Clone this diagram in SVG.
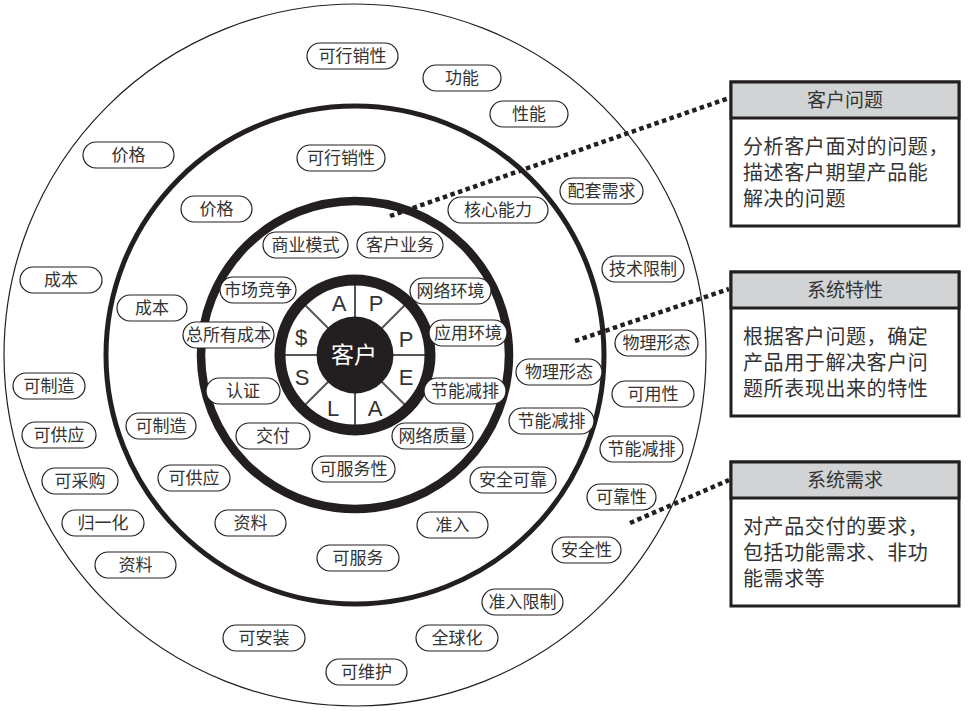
<svg xmlns="http://www.w3.org/2000/svg" width="972" height="711" viewBox="0 0 972 711">
<style>
  .ring{fill:none;stroke:#231f20}
  .pill rect{fill:#fff;stroke:#231f20;stroke-width:1.2}
  .pill text{font-family:"Noto Sans CJK SC","Noto Sans",sans-serif;font-size:17px;fill:#333;text-anchor:middle}
  .seg{stroke:#555;stroke-width:2}
  .let{font-family:"Liberation Sans",Arial,sans-serif;font-size:22px;fill:#333;text-anchor:middle}
  .dot{fill:none;stroke:#231f20;stroke-width:4.5;stroke-dasharray:4.5 3.5}
  .box{fill:#fff;stroke:#231f20;stroke-width:3}
  .hdr{fill:#d1d3d4;stroke:#231f20;stroke-width:3}
  .ttl{font-family:"Noto Sans CJK SC","Noto Sans",sans-serif;font-size:19px;fill:#333;text-anchor:middle}
  .body{font-family:"Noto Sans CJK SC","Noto Sans",sans-serif;font-size:20px;fill:#333;letter-spacing:0.6px}
</style>
<rect width="972" height="711" fill="#fff"/>
<g id="rings">
  <circle class="ring" cx="355" cy="355" r="351" stroke-width="1.2"/>
  <circle class="ring" cx="355" cy="355" r="249" stroke-width="5"/>
  <circle class="ring" cx="355" cy="355" r="154" stroke-width="8.5"/>
</g>
<g id="core">
  <circle cx="355" cy="355" r="70" fill="#fff"/>
  <line class="seg" x1="355" y1="285" x2="355" y2="317"/>
  <line class="seg" x1="355" y1="393" x2="355" y2="425"/>
  <line class="seg" x1="285" y1="355" x2="317" y2="355"/>
  <line class="seg" x1="393" y1="355" x2="425" y2="355"/>
  <line class="seg" x1="305.5" y1="305.5" x2="328" y2="328"/>
  <line class="seg" x1="382" y1="382" x2="404.5" y2="404.5"/>
  <line class="seg" x1="404.5" y1="305.5" x2="382" y2="328"/>
  <line class="seg" x1="328" y1="382" x2="305.5" y2="404.5"/>
  <circle cx="355" cy="355" r="75" fill="none" stroke="#231f20" stroke-width="11"/>
  <circle cx="355" cy="355" r="38.5" fill="#231f20"/>
  <text x="354" y="363" font-family="'Noto Sans CJK SC',sans-serif" font-size="23" fill="#fff" text-anchor="middle">客户</text>
  <text class="let" x="339" y="311">A</text>
  <text class="let" x="376" y="311">P</text>
  <text class="let" x="406" y="347">P</text>
  <text class="let" x="406" y="385">E</text>
  <text class="let" x="375" y="416">A</text>
  <text class="let" x="333" y="416">L</text>
  <text class="let" x="302" y="385">S</text>
  <text class="let" x="301" y="345">$</text>
</g>
<g id="connectors">
  <line class="dot" x1="390" y1="216" x2="729" y2="98"/>
  <line class="dot" x1="575" y1="341" x2="729" y2="289"/>
  <line class="dot" x1="630" y1="523" x2="729" y2="480"/>
</g>
<g id="outer-nodes">
  <g class="pill" id="o1"><rect x="307" y="43" width="91" height="26" rx="13"/><text x="352.5" y="62">可行销性</text></g>
  <g class="pill" id="o2"><rect x="423" y="65" width="78" height="26" rx="13"/><text x="462" y="84">功能</text></g>
  <g class="pill" id="o3"><rect x="490" y="101" width="78" height="26" rx="13"/><text x="529" y="120">性能</text></g>
  <g class="pill" id="o4"><rect x="83" y="142" width="91" height="26" rx="13"/><text x="128.5" y="161">价格</text></g>
  <g class="pill" id="o5"><rect x="560" y="178" width="83" height="26" rx="13"/><text x="601.5" y="197">配套需求</text></g>
  <g class="pill" id="o6"><rect x="602" y="256" width="82" height="26" rx="13"/><text x="643" y="275">技术限制</text></g>
  <g class="pill" id="o7"><rect x="20" y="267" width="82" height="26" rx="13"/><text x="61" y="286">成本</text></g>
  <g class="pill" id="o8"><rect x="615" y="330" width="83" height="26" rx="13"/><text x="656.5" y="349">物理形态</text></g>
  <g class="pill" id="o9"><rect x="612" y="381" width="82" height="26" rx="13"/><text x="653" y="400">可用性</text></g>
  <g class="pill" id="o10"><rect x="600" y="436" width="83" height="26" rx="13"/><text x="641.5" y="455">节能减排</text></g>
  <g class="pill" id="o11"><rect x="13" y="373" width="72" height="26" rx="13"/><text x="49" y="392">可制造</text></g>
  <g class="pill" id="o12"><rect x="22" y="422" width="74" height="26" rx="13"/><text x="59" y="441">可供应</text></g>
  <g class="pill" id="o13"><rect x="42" y="468" width="76" height="26" rx="13"/><text x="80" y="487">可采购</text></g>
  <g class="pill" id="o14"><rect x="587" y="484" width="69" height="26" rx="13"/><text x="621.5" y="503">可靠性</text></g>
  <g class="pill" id="o15"><rect x="62" y="510" width="82" height="26" rx="13"/><text x="103" y="529">归一化</text></g>
  <g class="pill" id="o16"><rect x="552" y="537" width="69" height="26" rx="13"/><text x="586.5" y="556">安全性</text></g>
  <g class="pill" id="o17"><rect x="95" y="552" width="81" height="26" rx="13"/><text x="135.5" y="571">资料</text></g>
  <g class="pill" id="o18"><rect x="482" y="589" width="81" height="26" rx="13"/><text x="522.5" y="608">准入限制</text></g>
  <g class="pill" id="o19"><rect x="223" y="625" width="82" height="26" rx="13"/><text x="264" y="644">可安装</text></g>
  <g class="pill" id="o20"><rect x="416" y="625" width="82" height="26" rx="13"/><text x="457" y="644">全球化</text></g>
  <g class="pill" id="o21"><rect x="326" y="659" width="81" height="26" rx="13"/><text x="366.5" y="678">可维护</text></g>
</g>
<g id="middle-nodes">
  <g class="pill" id="m1"><rect x="297" y="145" width="88" height="26" rx="13"/><text x="341" y="164">可行销性</text></g>
  <g class="pill" id="m2"><rect x="181" y="196" width="71" height="26" rx="13"/><text x="216.5" y="215">价格</text></g>
  <g class="pill" id="m3"><rect x="448" y="197" width="100" height="26" rx="13"/><text x="498" y="216">核心能力</text></g>
  <g class="pill" id="m4"><rect x="117" y="295" width="70" height="26" rx="13"/><text x="152" y="314">成本</text></g>
  <g class="pill" id="m5"><rect x="516" y="359" width="86" height="26" rx="13"/><text x="559" y="378">物理形态</text></g>
  <g class="pill" id="m6"><rect x="509" y="408" width="85" height="26" rx="13"/><text x="551.5" y="427">节能减排</text></g>
  <g class="pill" id="m7"><rect x="126" y="413" width="70" height="26" rx="13"/><text x="161" y="432">可制造</text></g>
  <g class="pill" id="m8"><rect x="158" y="465" width="72" height="26" rx="13"/><text x="194" y="484">可供应</text></g>
  <g class="pill" id="m9"><rect x="470" y="467" width="86" height="26" rx="13"/><text x="513" y="486">安全可靠</text></g>
  <g class="pill" id="m10"><rect x="215" y="510" width="71" height="26" rx="13"/><text x="250.5" y="529">资料</text></g>
  <g class="pill" id="m11"><rect x="417" y="512" width="71" height="26" rx="13"/><text x="452.5" y="531">准入</text></g>
  <g class="pill" id="m12"><rect x="317" y="545" width="82" height="26" rx="13"/><text x="358" y="564">可服务</text></g>
</g>
<g id="inner-nodes">
  <g class="pill" id="i1"><rect x="263" y="232" width="85" height="26" rx="13"/><text x="305.5" y="251">商业模式</text></g>
  <g class="pill" id="i2"><rect x="357" y="232" width="86" height="26" rx="13"/><text x="400" y="251">客户业务</text></g>
  <g class="pill" id="i3"><rect x="220" y="277" width="76" height="26" rx="13"/><text x="258" y="296">市场竞争</text></g>
  <g class="pill" id="i4"><rect x="410" y="278" width="81" height="26" rx="13"/><text x="450.5" y="297">网络环境</text></g>
  <g class="pill" id="i5"><rect x="183" y="322" width="91" height="26" rx="13"/><text x="228.5" y="341">总所有成本</text></g>
  <g class="pill" id="i6"><rect x="429" y="320" width="78" height="26" rx="13"/><text x="468" y="339">应用环境</text></g>
  <g class="pill" id="i7"><rect x="206" y="378" width="74" height="26" rx="13"/><text x="243" y="397">认证</text></g>
  <g class="pill" id="i8"><rect x="424" y="378" width="82" height="26" rx="13"/><text x="465" y="397">节能减排</text></g>
  <g class="pill" id="i9"><rect x="236" y="423" width="74" height="26" rx="13"/><text x="273" y="442">交付</text></g>
  <g class="pill" id="i10"><rect x="392" y="423" width="81" height="26" rx="13"/><text x="432.5" y="442">网络质量</text></g>
  <g class="pill" id="i11"><rect x="312" y="456" width="83" height="26" rx="13"/><text x="353.5" y="475">可服务性</text></g>
</g>
<g id="legend-1">
  <rect class="box" x="731" y="82" width="228" height="144"/>
  <rect class="hdr" x="731" y="82" width="228" height="36"/>
  <text class="ttl" x="845" y="107">客户问题</text>
  <text class="body" x="743" y="154">分析客户面对的问题，</text>
  <text class="body" x="743" y="180">描述客户期望产品能</text>
  <text class="body" x="743" y="206">解决的问题</text>
</g>
<g id="legend-2">
  <rect class="box" x="731" y="272" width="228" height="144"/>
  <rect class="hdr" x="731" y="272" width="228" height="36"/>
  <text class="ttl" x="845" y="297">系统特性</text>
  <text class="body" x="743" y="344">根据客户问题，确定</text>
  <text class="body" x="743" y="370">产品用于解决客户问</text>
  <text class="body" x="743" y="396">题所表现出来的特性</text>
</g>
<g id="legend-3">
  <rect class="box" x="731" y="462" width="228" height="144"/>
  <rect class="hdr" x="731" y="462" width="228" height="36"/>
  <text class="ttl" x="845" y="487">系统需求</text>
  <text class="body" x="743" y="534">对产品交付的要求，</text>
  <text class="body" x="743" y="560">包括功能需求、非功</text>
  <text class="body" x="743" y="586">能需求等</text>
</g>
</svg>
